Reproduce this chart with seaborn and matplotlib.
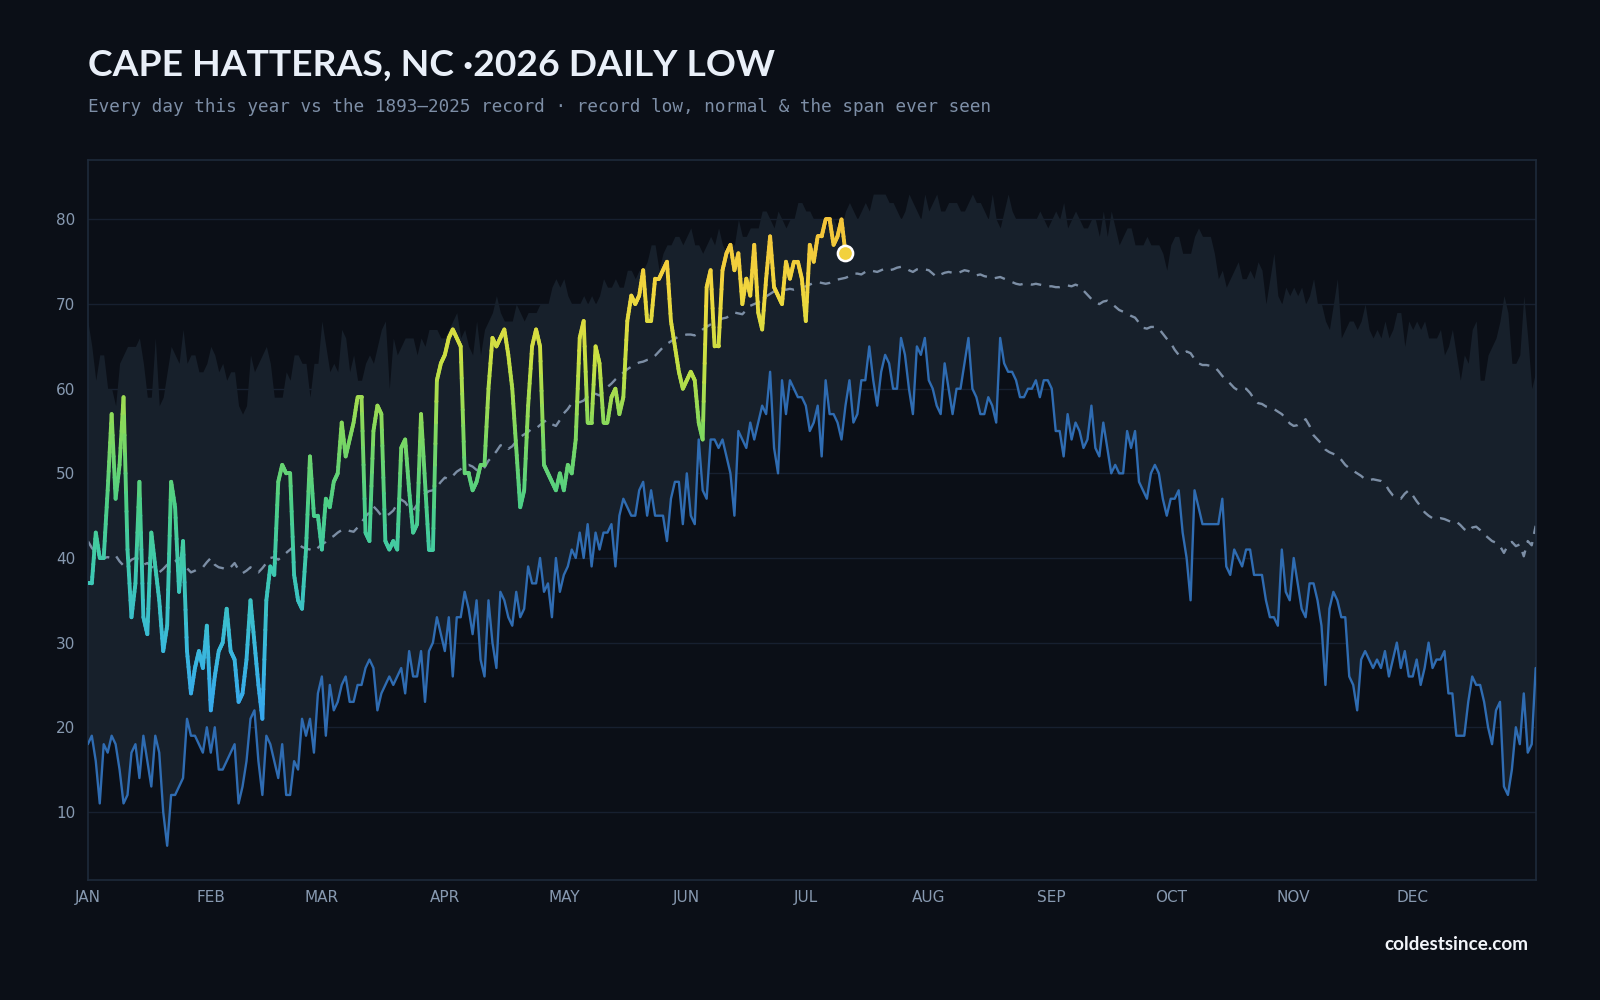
import numpy as np
import pandas as pd
import matplotlib
matplotlib.use("Agg")
import matplotlib.pyplot as plt
import seaborn as sns
from matplotlib.collections import LineCollection
from matplotlib.colors import LinearSegmentedColormap, Normalize

# ---------------- data ----------------
MONTHS = ["JAN", "FEB", "MAR", "APR", "MAY", "JUN", "JUL", "AUG", "SEP", "OCT", "NOV", "DEC"]
MONTH_START = [0, 31, 59, 90, 120, 151, 181, 212, 243, 273, 304, 334]
Y_TICKS = [10, 20, 30, 40, 50, 60, 70, 80]

RECORD_HIGH = [
    68, 65, 61, 64, 64, 60, 60, 58, 63, 64, 65, 65, 65, 66, 63, 59, 59, 66, 58, 59,
    62, 65, 64, 63, 67, 63, 64, 64, 62, 62, 63, 65, 64, 62, 63, 61, 62, 62, 58, 57,
    58, 64, 62, 63, 64, 65, 63, 59, 59, 59, 62, 61, 64, 64, 63, 63, 59, 63, 63, 68,
    65, 62, 63, 62, 67, 66, 62, 64, 61, 61, 63, 64, 63, 65, 67, 68, 60,
    66, 64, 65, 66, 66, 66, 64, 66, 65, 67, 67, 67, 66, 66, 67, 68, 69, 66, 67, 65,
    64, 68, 64, 67, 68, 69, 71, 69, 68, 68, 68, 70, 69, 68, 69,
    69, 69, 70, 70, 70, 72, 73, 72, 73, 71, 70, 70, 70, 71, 70, 71, 70, 71, 73, 72,
    72, 73, 72, 72, 74, 74, 73, 74, 74, 75, 77, 77, 74, 76, 77, 77, 78, 78, 77, 78,
    79, 77, 77, 76, 77, 78, 77, 79, 77, 76, 77, 77, 80, 78, 78, 79, 79, 79, 81, 81,
    80, 79, 81, 80, 79, 80, 80, 82, 82, 81, 81, 80, 80, 80, 79, 80, 80, 79, 79, 81,
    82, 81, 80,
    81, 82, 81, 83, 83, 83, 83, 82, 82, 81, 80, 81, 83, 82, 81, 80, 83, 81, 82, 83,
    81, 81, 82, 82, 82, 81, 81, 82, 83, 82, 82, 81, 80, 83, 80, 79, 81, 83, 81, 80,
    80, 80, 80, 80,
    80, 81, 80, 79, 80, 81, 80, 82, 79, 80, 81, 80, 79, 79, 80, 80, 78, 81, 78, 81,
    79, 77, 78, 79, 79, 77, 77, 77, 78, 77, 77, 77, 76, 74, 77, 78, 78, 76, 76, 76,
    78, 79, 78,
    78, 78, 76, 73, 74, 72, 73, 74, 75, 73, 73, 74, 73, 75, 74, 70, 73, 76, 71, 70,
    72, 71, 72, 71, 72, 70, 71, 73, 70, 70, 68, 67, 70, 73, 66, 67, 68, 68, 67, 68,
    70, 67, 66, 67, 66, 68, 66, 67, 69, 69, 65, 68, 67, 68, 67, 68, 66, 66, 66, 67,
    64, 65, 67, 64, 61, 64, 63, 67, 68, 61, 61, 64, 65, 66, 68, 71, 69, 63, 63, 64,
    71, 66, 60, 62,
]

RECORD_LOW = [
    18, 19, 16, 11, 18, 17, 19, 18, 15, 11, 12, 17, 18, 14, 19, 16, 13, 19, 17, 10,
    6, 12, 12, 13, 14, 21, 19, 19, 18, 17, 20, 17, 20, 15, 15, 16, 17, 18, 11, 13,
    16, 21, 22, 16, 12, 19, 18, 16, 14, 18, 12, 12, 16, 15, 21, 19, 21, 17, 24, 26,
    19, 25, 22, 23, 25, 26, 23, 23, 25, 25, 27, 28, 27, 22, 24, 25, 26,
    25, 26, 27, 24, 29, 26, 26, 29, 23, 29, 30, 33, 31, 29, 33, 26, 33, 33, 36, 34,
    31, 35, 28, 26, 35, 30, 27, 36, 35, 33, 32, 36, 33, 34, 39, 37, 37,
    40, 36, 37, 33, 40, 36, 38, 39, 41, 40, 43, 40, 44, 39, 43, 41, 43, 43, 44, 39,
    45, 47, 46, 45, 45, 48, 49, 45, 48, 45, 45, 45, 42, 47, 49, 49, 44,
    50, 45, 44, 54, 48, 47, 54, 54, 53, 54, 52, 50, 45, 55, 54, 53, 56, 54, 56, 58,
    57, 62, 53, 50, 61, 57, 61, 60, 59, 59, 58, 55, 56, 58, 52, 61, 57, 57, 56, 54,
    58, 61, 56, 57,
    61, 61, 65, 61, 58, 62, 64, 63, 60, 60, 66, 64, 60, 57, 65, 64, 66, 61, 60, 58,
    57, 63, 60, 57, 60, 60, 63, 66, 60, 59, 57, 57, 59, 58, 56, 66, 63, 62, 62, 61,
    59, 59, 60, 60,
    61, 59, 61, 61, 60, 55, 55, 52, 57, 54, 56, 55, 53, 54, 58, 53, 52, 56, 53, 50,
    51, 50, 50, 55, 53, 55, 49, 48, 47, 50, 51, 50, 47, 45, 47, 47, 48, 43, 40, 35,
    48, 46, 44,
    44, 44, 44, 44, 47, 39, 38, 41, 40, 39, 41, 41, 38, 38, 38, 35, 33, 33, 32, 41,
    36, 35, 40, 37, 34, 33, 37, 37, 35, 32, 25, 34, 36, 35, 33, 33, 26, 25, 22, 28,
    29, 28, 27, 28, 27, 29, 26, 28, 30, 27, 29, 26, 26, 28, 25, 27, 30, 27, 28, 28,
    29, 24, 24, 19, 19, 19, 23, 26, 25, 25, 23, 20, 18, 22, 23, 13, 12, 15, 20, 18,
    24, 17, 18, 27,
]

NORMAL = [
    42.0, 41.2, 40.6, 40.2, 40.0, 40.1, 40.0, 40.3, 39.6, 39.1,
    39.3, 39.8, 40.0, 39.7, 39.2, 39.4, 39.0, 38.6, 38.3, 38.7,
    39.2, 39.4, 39.6, 40.0, 39.5, 38.8, 38.3, 38.5, 38.8, 38.9,
    39.5, 40.0, 39.2, 38.9, 38.8, 38.6, 38.9, 39.4, 38.6, 38.2,
    38.5, 38.9, 38.6, 38.3, 38.8, 39.4, 40.0, 40.1, 39.8, 40.2,
    40.6, 41.0, 41.4, 41.7, 41.3, 41.1, 41.0, 40.8, 41.2, 41.6,
    41.9, 42.3, 42.6, 43.0, 43.3, 43.4, 43.2, 43.1, 43.6, 44.2,
    44.9, 45.4, 46.1, 45.6, 45.0, 44.9, 45.2, 45.6, 46.4, 46.9,
    46.6, 45.9, 45.6, 46.3, 47.1, 47.6, 47.9, 48.0, 48.4, 49.0,
    49.5, 49.3, 49.7, 50.2, 50.5, 50.9, 51.0, 50.8, 50.4, 50.2,
    50.7, 51.5, 52.0, 52.6, 53.3, 53.4, 52.9, 53.2, 53.8, 54.3,
    54.6, 54.9, 55.3, 55.3, 55.7, 56.1, 56.3, 55.8, 55.6, 56.3,
    57.1, 57.6, 58.3, 58.5, 58.4, 58.6, 59.1, 59.3, 59.4, 59.2,
    59.7, 60.2, 60.6, 61.1, 61.5, 61.9, 62.3, 62.6, 62.9, 63.1,
    63.2, 63.4, 63.5, 63.9, 64.4, 64.9, 65.3, 65.6, 65.9, 66.2,
    66.3, 66.4, 66.4, 66.3, 66.6, 67.0, 67.3, 67.6, 67.9, 68.1,
    68.3, 68.4, 68.7, 69.0, 68.9, 68.8, 69.3, 69.8, 70.0, 70.2,
    70.5, 70.9, 71.2, 71.5, 71.7, 71.7, 71.7, 71.8, 71.7, 71.8,
    72.0, 72.1, 72.3, 72.5, 72.6, 72.5, 72.4, 72.5, 72.7, 72.9,
    73.0, 73.1, 73.3, 73.6, 73.6, 73.5, 73.8, 74.0, 73.9, 73.8,
    74.0, 74.2, 74.0, 74.1, 74.3, 74.4, 74.3, 74.0, 73.8, 74.1,
    74.2, 74.1, 74.0, 73.6, 73.2, 73.5, 73.7, 73.8, 73.7, 73.6,
    73.8, 74.0, 73.9, 73.6, 73.4, 73.5, 73.3, 73.2, 73.0, 73.1,
    73.2, 73.0, 72.8, 72.6, 72.4, 72.3, 72.4, 72.4, 72.3, 72.4,
    72.3, 72.2, 72.1, 72.1, 72.0, 72.0, 72.1, 72.2, 72.1, 72.3,
    72.1, 71.6, 71.1, 70.6, 70.2, 70.0, 70.3, 70.4, 70.1, 69.7,
    69.3, 69.1, 68.9, 68.6, 68.4, 67.8, 67.2, 67.1, 67.3, 67.3,
    67.1, 66.5, 65.9, 65.4, 64.6, 64.0, 64.1, 64.4, 64.2, 63.5,
    63.0, 62.8, 62.8, 62.7, 62.6, 62.1, 61.5, 61.1, 60.6, 60.1,
    59.8, 59.9, 60.0, 59.5, 58.8, 58.3, 58.2, 57.9, 57.8, 57.6,
    57.3, 57.0, 56.5, 55.9, 55.6, 55.7, 56.0, 56.4, 55.6, 54.5,
    54.0, 53.5, 52.8, 52.5, 52.3, 52.1, 51.6, 51.0, 50.6, 50.3,
    50.0, 49.7, 49.3, 49.2, 49.3, 49.2, 49.1, 48.8, 48.0, 47.4,
    47.1, 47.0, 47.6, 48.0, 47.4, 46.7, 46.1, 45.4, 45.0, 44.7,
    44.6, 44.7, 44.6, 44.4, 44.2, 44.3, 43.9, 43.4, 43.1, 43.6,
    43.7, 43.3, 42.8, 42.4, 42.0, 41.8, 41.4, 40.6, 41.5, 41.9,
    41.4, 41.6, 40.2, 42.0, 41.5, 43.8,
]

THIS_YEAR = [
    37, 37, 43, 40, 40, 48, 57, 47, 51, 59, 41, 33, 37, 49, 33, 31, 43, 39, 35, 29,
    32, 49, 46, 36, 42, 29, 24, 27, 29, 27, 32, 22, 26, 29, 30, 34, 29, 28, 23, 24,
    28, 35, 30, 25, 21, 35, 39, 38, 49, 51, 50, 50, 38, 35, 34, 41, 52, 45, 45, 41,
    47, 46, 49, 50, 56, 52, 54, 56, 59, 59, 43, 42, 55, 58, 57, 42, 41, 42, 41, 53,
    54, 48, 43, 44, 57, 49, 41, 41, 61, 63, 64, 66, 67, 66, 65, 50, 50, 48, 49, 51,
    51, 60, 66, 65, 66, 67, 64, 60, 53, 46, 48, 58, 65, 67, 65, 51, 50, 49, 48, 50,
    48, 51, 50, 54, 66, 68, 56, 56, 65, 63, 56, 56, 59, 60, 57, 59, 68, 71, 70, 71,
    74, 68, 68, 73, 73, 74, 75, 68, 65, 62, 60, 61, 62, 61, 56, 54, 72, 74, 65, 65,
    74, 76, 77, 74, 76, 70, 73, 71, 77, 69, 67, 73, 78, 72, 71, 70, 75, 73, 75, 75,
    73, 68, 77, 75, 78, 78, 80, 80, 77, 78, 80, 76,
]

TITLE = "CAPE HATTERAS, NC \u00b72026 DAILY LOW"
SUBTITLE = "Every day this year vs the 1893\u20132025 record \u00b7 record low, normal & the span ever seen"
FOOTER = "coldestsince.com"

# ---------------- styling ----------------
BG = "#0b0f17"
BAND = "#17202b"
GRID = "#172030"
SPINE = "#1e2a3a"
TICK = "#8799b0"
LOW_C = "#2f6cb2"
NORM_C = "#7c8ea5"

sns.set_theme(style="dark")
plt.rcParams.update({
    "font.family": ["DejaVu Sans"],
    "figure.facecolor": BG,
    "axes.facecolor": BG,
    "savefig.facecolor": BG,
})

days = np.arange(len(RECORD_LOW))
df = pd.DataFrame({"day": days, "low": RECORD_LOW, "high": RECORD_HIGH, "normal": NORMAL})
ty = pd.DataFrame({"day": np.arange(len(THIS_YEAR)), "temp": THIS_YEAR})

fig = plt.figure(figsize=(16, 10), dpi=100)
ax = fig.add_axes([0.0549, 0.1204, 0.9049, 0.7194])
ax.set_facecolor(BG)

# band of all-time span
ax.fill_between(df["day"], df["low"], df["high"], color=BAND, lw=0, zorder=1)

# record low line
sns.lineplot(data=df, x="day", y="low", color=LOW_C, lw=1.7, ax=ax, zorder=3)
# normal dashed
sns.lineplot(data=df, x="day", y="normal", color=NORM_C, lw=1.7, ax=ax, zorder=2)
ax.lines[-1].set_dashes([4.5, 3.5])

# this year's line coloured by value
cmap = LinearSegmentedColormap.from_list(
    "yr", ["#37a6ef", "#3ab9dc", "#3dc8b4", "#4ccf88", "#7fd860", "#c6e043", "#f1d73e", "#f3c33a"])
norm = Normalize(vmin=21, vmax=80)
xs = ty["day"].to_numpy(float)
vs = ty["temp"].to_numpy(float)
segs, cols = [], []
sub = 8
for i in range(len(xs) - 1):
    for k in range(sub):
        t0, t1 = k / sub, (k + 1) / sub
        x0 = xs[i] + (xs[i + 1] - xs[i]) * t0
        x1 = xs[i] + (xs[i + 1] - xs[i]) * t1
        y0 = vs[i] + (vs[i + 1] - vs[i]) * t0
        y1 = vs[i] + (vs[i + 1] - vs[i]) * t1
        segs.append([(x0, y0), (x1, y1)])
        cols.append(cmap(norm((y0 + y1) / 2)))
lc = LineCollection(segs, colors=cols, linewidths=2.8, capstyle="round", joinstyle="round", zorder=4)
ax.add_collection(lc)

# last point marker
last = ty.iloc[[-1]]
sns.scatterplot(data=last, x="day", y="temp", s=120, color=cmap(norm(last["temp"].iloc[0] - 2)),
                edgecolor="white", linewidth=1.8, ax=ax, zorder=5)

# axes
ax.set_xlim(0, len(RECORD_LOW) - 1)
ax.set_ylim(2, 87)
ax.set_xticks(MONTH_START)
ax.set_xticklabels(MONTHS)
ax.set_yticks(Y_TICKS)
ax.set_yticklabels([str(v) for v in Y_TICKS])
ax.set_xlabel("")
ax.set_ylabel("")
ax.grid(False)
for v in Y_TICKS:
    ax.axhline(v, color=GRID, lw=1.0, zorder=0.5)
ax.tick_params(axis="both", colors=TICK, labelsize=11, length=4, width=1, pad=5, labelcolor=TICK)
ax.tick_params(axis="x", pad=3.5)
for sp in ax.spines.values():
    sp.set_visible(True)
    sp.set_color(SPINE)
    sp.set_linewidth(1.2)

# texts
fig.text(0.0549, 0.935, TITLE, fontsize=26.8, fontweight="bold", color="#e9eff8",
         family=["Lato", "DejaVu Sans"], va="center", ha="left")
fig.text(0.0549, 0.8935, SUBTITLE, fontsize=12.7, color="#7d8ea6",
         family=["DejaVu Sans Mono"], va="center", ha="left")
fig.text(0.955, 0.056, FOOTER, fontsize=13.6, fontweight="bold", color="#f2f5fa",
         family=["Lato", "DejaVu Sans"], va="center", ha="right")

fig.savefig("out.png", dpi=100, facecolor=BG)
